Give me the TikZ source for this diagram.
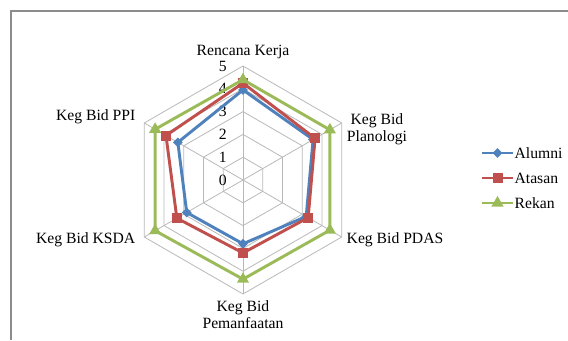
\documentclass[tikz,border=0pt]{standalone}
\usepackage{fontspec}
\setmainfont{Liberation Serif}
\usetikzlibrary{calc, shapes.geometric}

\definecolor{alumni}{HTML}{4F81BD}
\definecolor{atasan}{HTML}{C0504D}
\definecolor{rekan}{HTML}{9BBB59}

\tikzset{
	frame line/.style = {draw = black!45, line width = 1.2pt},
	grid line/.style = {draw = black!28, line width = 0.6pt},
	tick label/.style = {anchor = east, inner sep = 0pt},
	series/.style = {line width = 2.2pt, line join = round},
	alumni-mark/.style = {diamond, fill = alumni, inner sep = 0pt, minimum width = 7.5pt, minimum height = 7.5pt},
	atasan-mark/.style = {rectangle, fill = atasan, inner sep = 0pt, minimum size = 7.5pt},
	rekan-mark/.style = {regular polygon, regular polygon sides = 3, fill = rekan, inner sep = 0pt, minimum size = 10.5pt}
}

\begin{document}
\begin{tikzpicture}[x = 0.75pt, y = 0.75pt, every node/.style = {font = \fontsize{11.75}{12.75}\selectfont}]
			\def\u{22.8}
			
			\useasboundingbox (0,0) rectangle (568,340);
			\draw[frame line] (11,0) -- (11,329) -- (568,329);
			
			\coordinate (centre) at (243,160);
			
			\begin{scope}[shift = {(centre)}]
				\foreach \r in {1,...,5}
					\draw[grid line] (90:{\r*\u}) -- (30:{\r*\u}) -- (-30:{\r*\u}) -- (-90:{\r*\u}) -- (-150:{\r*\u}) -- (150:{\r*\u}) -- cycle;
				\foreach \a [count = \i] in {90,30,-30,-90,-150,150} {
					\coordinate (axis-\i) at (\a:{5*\u});
					\draw[grid line] (centre) -- (axis-\i);
				}
			\end{scope}
			
			\foreach \r in {0,...,5}
				\node[tick label] (tick-\r) at ($ (centre) + (-16,{\r*\u}) $) {\r};
			
			\foreach \s/\vals in {alumni/{3.95,3.55,3.2,2.8,2.85,3.3}, atasan/{4.25,3.65,3.3,3.2,3.35,3.9}, rekan/{4.4,4.4,4.4,4.35,4.45,4.45}} {
				\foreach \v [count = \i] in \vals {
					\pgfmathsetmacro\a{150 - 60*\i}
					\coordinate (\s-\i) at ($ (centre) + (\a:{\v*\u}) $);
				}
				\draw[series, draw = \s] (\s-1) -- (\s-2) -- (\s-3) -- (\s-4) -- (\s-5) -- (\s-6) -- cycle;
				\foreach \i in {1,...,6}
					\node[\s-mark] (\s-mark-\i) at (\s-\i) {};
			}
			
			\node (label-rencana) at (243,288) {Rencana Kerja};
			\node[align = center] (label-planologi) at (377,211) {Keg Bid\\Planologi};
			\node (label-pdas) at (395,100) {Keg Bid PDAS};
			\node[align = center] (label-pemanfaatan) at (243,25) {Keg Bid\\Pemanfaatan};
			\node[anchor = east] (label-ksda) at (140,100) {Keg Bid KSDA};
			\node[anchor = east] (label-ppi) at (140,223) {Keg Bid PPI};
			
			\foreach \s/\lbl/\y in {alumni/Alumni/187, atasan/Atasan/162, rekan/Rekan/137} {
				\coordinate (\s-key-start) at (482,\y);
				\node[anchor = west, inner sep = 1pt] (\s-key) at (513,\y) {\lbl};
				\draw[series, draw = \s] (\s-key-start) -- (\s-key.west);
				\node[\s-mark] (\s-key-mark) at ($ (\s-key-start)!0.5!(\s-key.west) $) {};
			}
		\end{tikzpicture}
\end{document}
